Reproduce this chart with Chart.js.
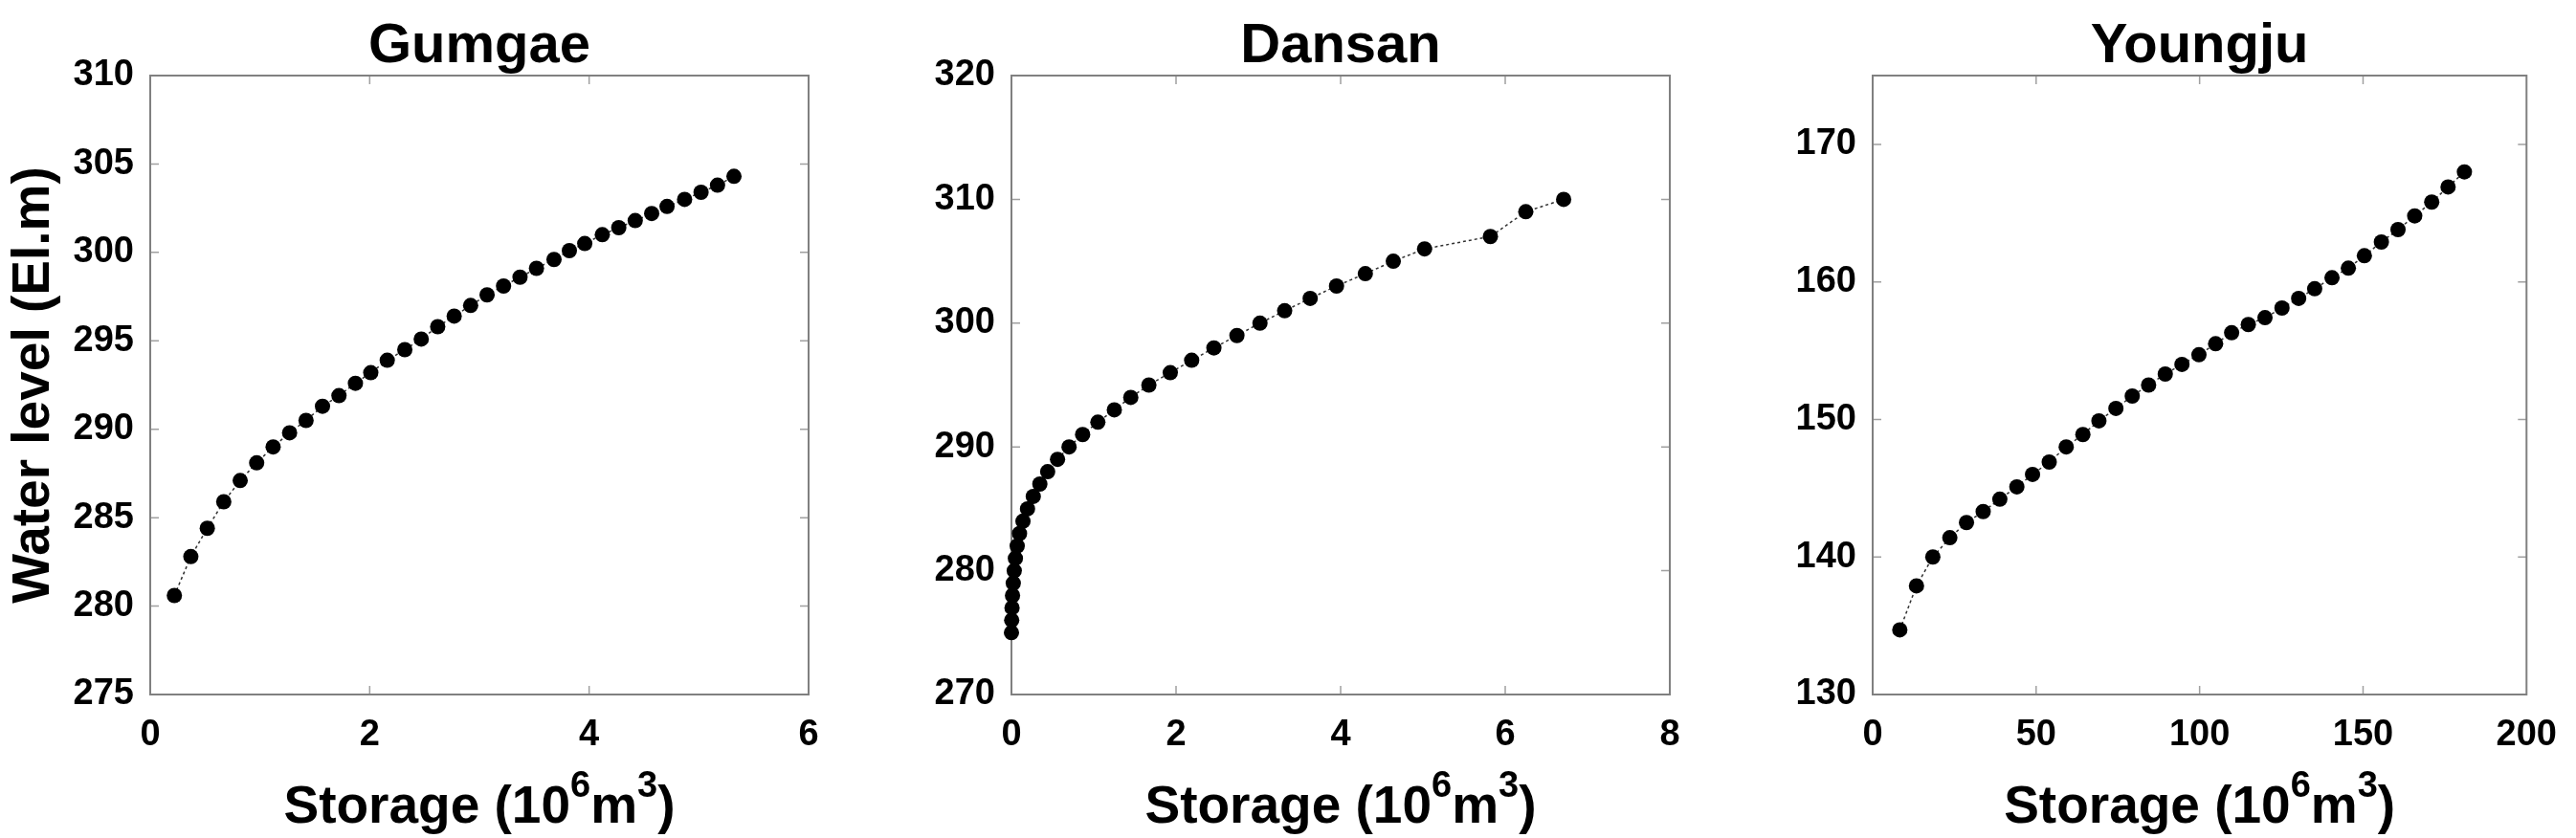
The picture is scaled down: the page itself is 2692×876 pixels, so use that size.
<!DOCTYPE html>
<html>
<head>
<meta charset="utf-8">
<script src="https://cdn.jsdelivr.net/npm/chart.js@4.4.0/dist/chart.umd.min.js"></script>
<style>
  body { margin: 0; background: #fff; width: 2692px; height: 876px; overflow: hidden; position: relative; }
  .panel { position: absolute; top: 0; height: 876px; }
</style>
</head>
<body>
<div class="panel" style="left:0;width:900px"><canvas id="gumgaeChart"></canvas></div>
<div class="panel" style="left:900px;width:900px"><canvas id="dansanChart"></canvas></div>
<div class="panel" style="left:1800px;width:892px"><canvas id="youngjuChart"></canvas></div>
<script>
// Gumgae reservoir (storage in 10^6 m3, water level in El.m)
const gumgaeStorage = [0.22, 0.37, 0.52, 0.67, 0.82, 0.97, 1.12, 1.27, 1.42, 1.57, 1.72, 1.87,
  2.01, 2.16, 2.32, 2.47, 2.62, 2.77, 2.92, 3.07, 3.22, 3.37, 3.52, 3.68, 3.82, 3.96, 4.12,
  4.27, 4.42, 4.57, 4.71, 4.87, 5.02, 5.17, 5.32];
const gumgaeLevel = [280.6, 282.8, 284.4, 285.9, 287.1, 288.1, 289.0, 289.8, 290.5, 291.3, 291.9, 292.6,
  293.2, 293.9, 294.5, 295.1, 295.8, 296.4, 297.0, 297.6, 298.1, 298.6, 299.1, 299.6, 300.1, 300.5, 301.0,
  301.4, 301.8, 302.2, 302.6, 303.0, 303.4, 303.8, 304.3];

// Dansan reservoir
const dansanStorage = [0.0, 0.003, 0.007, 0.013, 0.022, 0.034, 0.048, 0.07, 0.098, 0.14, 0.195, 0.265,
  0.345, 0.44, 0.56, 0.70, 0.865, 1.05, 1.25, 1.45, 1.67, 1.93, 2.19, 2.46, 2.74, 3.02, 3.32,
  3.63, 3.95, 4.30, 4.64, 5.02, 5.82, 6.25, 6.71];
const dansanLevel = [275, 276, 277, 278, 279, 280, 281, 282, 283, 284, 285, 286,
  287, 288, 289, 290, 291, 292, 293, 294, 295, 296, 297, 298, 299, 300, 301,
  302, 303, 304, 305, 306, 307, 309, 310];

// Youngju reservoir
const youngjuStorage = [8.3, 13.4, 18.4, 23.6, 28.7, 33.8, 38.9, 44.1, 48.9, 54.0, 59.2, 64.3,
  69.2, 74.4, 79.4, 84.4, 89.5, 94.6, 99.8, 104.9, 109.8, 114.9, 120.0, 125.2, 130.3, 135.2, 140.5,
  145.5, 150.4, 155.6, 160.7, 165.8, 171.0, 176.0, 181.0];
const youngjuLevel = [134.7, 137.9, 140.0, 141.4, 142.5, 143.3, 144.2, 145.1, 146.0, 146.9, 148.0, 148.9,
  149.9, 150.8, 151.7, 152.5, 153.3, 154.0, 154.7, 155.5, 156.3, 156.9, 157.4, 158.1, 158.8, 159.5, 160.3,
  161.0, 161.9, 162.9, 163.8, 164.8, 165.8, 166.9, 168.0];

const FONT = "'Liberation Sans', Arial, Helvetica, sans-serif";
Chart.defaults.font.family = FONT;
Chart.defaults.color = '#000';

// MATLAB-like box with inward tick marks, plus titles (superscripts need manual text)
const matlabFrame = {
  id: 'matlabFrame',
  beforeDatasetsDraw(chart) {
    const { ctx, chartArea: a, scales } = chart;
    ctx.save();
    ctx.strokeStyle = '#a0a0a0';
    ctx.lineWidth = 1.5;
    const len = 9;
    scales.x.ticks.forEach(t => {
      const px = scales.x.getPixelForValue(t.value);
      if (px <= a.left + 1 || px >= a.right - 1) return;
      ctx.beginPath();
      ctx.moveTo(px, a.bottom); ctx.lineTo(px, a.bottom - len);
      ctx.moveTo(px, a.top); ctx.lineTo(px, a.top + len);
      ctx.stroke();
    });
    scales.y.ticks.forEach(t => {
      const py = scales.y.getPixelForValue(t.value);
      if (py <= a.top + 1 || py >= a.bottom - 1) return;
      ctx.beginPath();
      ctx.moveTo(a.left, py); ctx.lineTo(a.left + len, py);
      ctx.moveTo(a.right, py); ctx.lineTo(a.right - len, py);
      ctx.stroke();
    });
    ctx.strokeStyle = '#808080';
    ctx.lineWidth = 2;
    ctx.strokeRect(a.left, a.top, a.right - a.left, a.bottom - a.top);
    ctx.restore();
  },
  afterDraw(chart, args, opts) {
    const { ctx, chartArea: a } = chart;
    const cx = (a.left + a.right) / 2;
    ctx.save();
    ctx.fillStyle = '#000';

    // panel title
    ctx.font = `bold 58px ${FONT}`;
    ctx.textAlign = 'center';
    ctx.textBaseline = 'alphabetic';
    ctx.fillText(opts.title, cx, 65);

    // x label with superscripts
    const size = 55;
    const supSize = 38;
    const parts = [['Storage (10', false], ['6', true], ['m', false], ['3', true], [')', false]];
    ctx.textAlign = 'left';
    let total = 0;
    parts.forEach(([t, sup]) => {
      ctx.font = `bold ${sup ? supSize : size}px ${FONT}`;
      total += ctx.measureText(t).width;
    });
    let x = cx - total / 2;
    const base = 860;
    parts.forEach(([t, sup]) => {
      ctx.font = `bold ${sup ? supSize : size}px ${FONT}`;
      ctx.fillText(t, x, sup ? base - 27 : base);
      x += ctx.measureText(t).width;
    });

    if (opts.yTitle) {
      ctx.font = `bold ${size}px ${FONT}`;
      ctx.translate(36, (a.top + a.bottom) / 2);
      ctx.rotate(-Math.PI / 2);
      ctx.textAlign = 'center';
      ctx.textBaseline = 'middle';
      ctx.fillText(opts.yTitle, 0, 0);
    }
    ctx.restore();
  }
};

function createPanel(canvasId, title, storage, level, xAxis, yAxis, rightPad, yTitle) {
  const ctx = document.getElementById(canvasId).getContext('2d');
  return new Chart(ctx, {
    type: 'scatter',
    data: {
      datasets: [{
        data: storage.map((s, i) => ({ x: s, y: level[i] })),
        showLine: true,
        borderColor: '#333',
        borderWidth: 1.5,
        borderDash: [3, 3],
        pointRadius: 8,
        pointHoverRadius: 8,
        pointBackgroundColor: '#000',
        pointBorderColor: '#000',
        pointBorderWidth: 0,
        clip: false
      }]
    },
    options: {
      responsive: true,
      maintainAspectRatio: false,
      animation: false,
      layout: { padding: { left: 0, right: rightPad, top: 79, bottom: 0 } },
      plugins: {
        legend: { display: false },
        tooltip: { enabled: false },
        title: { display: false },
        matlabFrame: { title: title, yTitle: yTitle }
      },
      scales: {
        x: {
          type: 'linear',
          min: xAxis.min, max: xAxis.max,
          grid: { display: false, drawTicks: false },
          border: { display: false },
          ticks: { stepSize: xAxis.step, padding: 20, font: { size: 38, weight: 'bold' }, color: '#000', maxRotation: 0 },
          afterFit: s => { s.height = 150; }
        },
        y: {
          type: 'linear',
          min: yAxis.min, max: yAxis.max,
          grid: { display: false, drawTicks: false },
          border: { display: false },
          ticks: { stepSize: yAxis.step, includeBounds: false, padding: 17, font: { size: 38, weight: 'bold' }, color: '#000' },
          afterFit: s => { s.width = 157; }
        }
      }
    },
    plugins: [matlabFrame]
  });
}

createPanel('gumgaeChart', 'Gumgae', gumgaeStorage, gumgaeLevel,
  { min: 0, max: 6, step: 2 }, { min: 275, max: 310, step: 5 }, 55, 'Water level (El.m)');
createPanel('dansanChart', 'Dansan', dansanStorage, dansanLevel,
  { min: 0, max: 8, step: 2 }, { min: 270, max: 320, step: 10 }, 55, null);
createPanel('youngjuChart', 'Youngju', youngjuStorage, youngjuLevel,
  { min: 0, max: 200, step: 50 }, { min: 130, max: 175, step: 10 }, 47, null);
</script>
</body>
</html>
